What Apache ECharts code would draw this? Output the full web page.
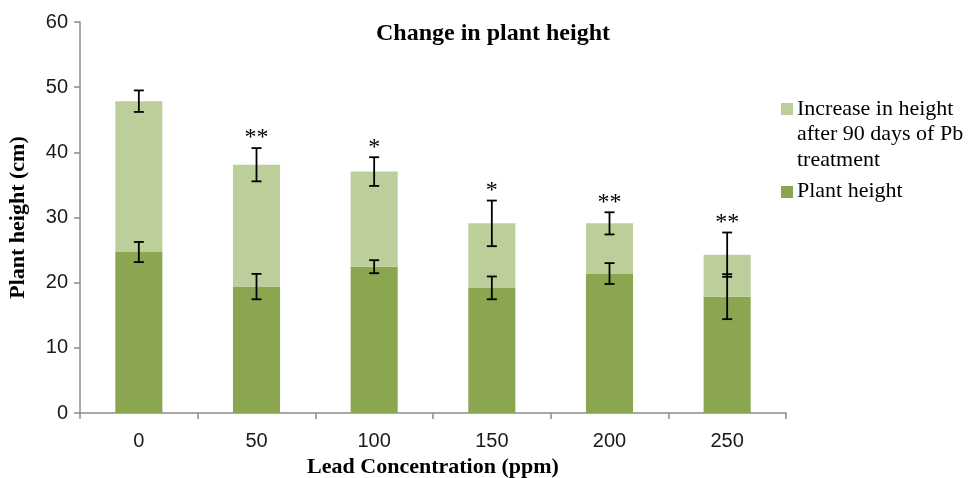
<!DOCTYPE html>
<html><head><meta charset="utf-8">
<script src="https://cdn.jsdelivr.net/npm/echarts@6/dist/echarts.min.js"></script>
<style>html,body{margin:0;padding:0;background:#fff}#c{width:969px;height:478px}</style>
</head><body><div id="c"></div>
<script>
const categories = ['0','50','100','150','200','250'];
const plantHeight = [24.7, 19.4, 22.45, 19.2, 21.4, 17.85];
const increase = [23.15, 18.7, 14.6, 9.9, 7.7, 6.45];
const plantHeightErr = [1.55, 1.95, 1.0, 1.75, 1.6, 3.45];
const totalErr = [1.65, 2.55, 2.2, 3.5, 1.7, 3.4];
const significance = ['', '**', '*', '*', '**', '**'];
const yTicks = [0, 10, 20, 30, 40, 50, 60];
const legendNames = ['Increase in height\nafter 90 days of Pb\ntreatment', 'Plant height'];

const darkGreen = '#8aa651';
const lightGreen = '#bccf9a';

const totals = plantHeight.map((v, i) => v + increase[i]);
const errData = [];
categories.forEach((c, i) => {
  errData.push([i, plantHeight[i], plantHeightErr[i], '']);
  errData.push([i, totals[i], totalErr[i], significance[i]]);
});

const serif = 'Liberation Serif';
const sans = 'Liberation Sans';

const chart = echarts.init(document.getElementById('c'));
chart.setOption({
  animation: false,
  title: {
    text: 'Change in plant height', left: 488, top: 17, textAlign: 'center',
    textStyle: { fontFamily: serif, fontWeight: 'bold', fontSize: 24, color: '#000' }
  },
  graphic: [
    { type: 'rect', left: 781, top: 103, shape: { width: 12, height: 12 }, style: { fill: lightGreen } },
    { type: 'text', left: 797, top: 96, style: { text: legendNames[0], fontFamily: serif, fontSize: 22, lineHeight: 25.5, fill: '#000' } },
    { type: 'rect', left: 781, top: 186, shape: { width: 12, height: 12 }, style: { fill: darkGreen } },
    { type: 'text', left: 797, top: 178, style: { text: legendNames[1], fontFamily: serif, fontSize: 22, lineHeight: 25.5, fill: '#000' } }
  ],
  grid: { left: 80, right: 183, top: 22, bottom: 65, containLabel: false, outerBoundsMode: 'none' },
  xAxis: {
    type: 'category', data: categories,
    name: 'Lead Concentration (ppm)', nameLocation: 'middle', nameGap: 42,
    nameTextStyle: { fontFamily: serif, fontWeight: 'bold', fontSize: 22, color: '#000' },
    axisLine: { lineStyle: { color: '#8c8c8c', width: 1.5 } },
    axisTick: { show: true, length: 6, lineStyle: { color: '#8c8c8c', width: 1.5 } },
    axisLabel: { fontFamily: sans, fontSize: 20, color: '#1a1a1a', margin: 18 }
  },
  yAxis: {
    type: 'value', min: yTicks[0], max: yTicks[yTicks.length - 1], interval: 10,
    name: 'Plant height (cm)', nameLocation: 'middle', nameGap: 51,
    nameTextStyle: { fontFamily: serif, fontWeight: 'bold', fontSize: 22, color: '#000' },
    axisLine: { show: true, lineStyle: { color: '#8c8c8c', width: 1.5 } },
    axisTick: { show: true, length: 6, lineStyle: { color: '#8c8c8c', width: 1.5 } },
    splitLine: { show: false },
    axisLabel: { fontFamily: sans, fontSize: 20, color: '#1a1a1a', margin: 12 }
  },
  series: [
    {
      name: legendNames[1], type: 'bar', stack: 's', barWidth: '40%',
      data: plantHeight, itemStyle: { color: darkGreen }, z: 2
    },
    {
      name: legendNames[0], type: 'bar', stack: 's',
      data: increase, itemStyle: { color: lightGreen }, z: 2
    },
    {
      type: 'custom', data: errData, z: 10, silent: true,
      renderItem: function (params, api) {
        const x = api.value(0), y = api.value(1), e = api.value(2);
        const sig = errData[params.dataIndex][3];
        const hi = api.coord([x, y + e]);
        const lo = api.coord([x, y - e]);
        const w = 5;
        const style = { stroke: '#000', lineWidth: 1.8 };
        const children = [
          { type: 'line', shape: { x1: hi[0], y1: hi[1], x2: lo[0], y2: lo[1] }, style },
          { type: 'line', shape: { x1: hi[0] - w, y1: hi[1], x2: hi[0] + w, y2: hi[1] }, style },
          { type: 'line', shape: { x1: lo[0] - w, y1: lo[1], x2: lo[0] + w, y2: lo[1] }, style }
        ];
        if (sig) {
          children.push({
            type: 'text',
            style: {
              x: hi[0], y: hi[1] + 2, text: sig, align: 'center', verticalAlign: 'bottom',
              fontFamily: serif, fontSize: 24, fill: '#000'
            }
          });
        }
        return { type: 'group', children };
      }
    }
  ]
});
</script></body></html>
